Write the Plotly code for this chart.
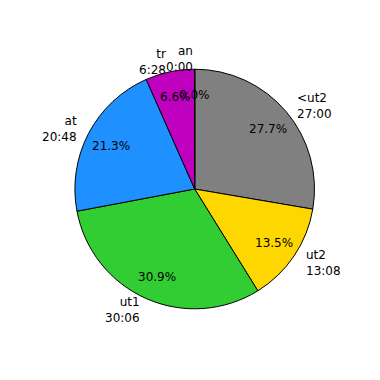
import math
import plotly.graph_objects as go

labels = ["<ut2", "ut2", "ut1", "at", "tr", "an"]
times = ["27:00", "13:08", "30:06", "20:48", "6:28", "0:00"]
minutes = [27 + 0/60, 13 + 8/60, 30 + 6/60, 20 + 48/60, 6 + 28/60, 0.0]
colors = ["#808080", "#FFD700", "#32CD32", "#1E90FF", "#BF00BF", "#FF7F0E"]

W = H = 380
cx, cy, r = 195.0, 190.0, 119.0  # text geometry, pixels from top-left
pcx, pcy, pr = 194.7, 189.0, 119.8  # pie domain geometry
pct_dist, lab_dist = 0.8, 1.1
FONT = dict(family="DejaVu Sans", size=12, color="black")

fig = go.Figure(go.Pie(
    labels=labels, values=minutes, sort=False, direction="clockwise", rotation=0,
    marker=dict(colors=colors, line=dict(color="black", width=1)),
    textinfo="none", hoverinfo="skip", showlegend=False,
    domain=dict(x=[(pcx - pr) / W, (pcx + pr) / W], y=[1 - (pcy + pr) / H, 1 - (pcy - pr) / H]),
))

total = sum(minutes)
cum = 0.0
annotations = []
for lab, t, v in zip(labels, times, minutes):
    frac = v / total
    mid = cum + frac / 2
    cum += frac
    ang = math.radians(90 - 360 * mid)
    c, s = math.cos(ang), math.sin(ang)
    px = cx + pct_dist * r * c
    py = cy - pct_dist * r * s
    annotations.append(dict(x=px / W, y=1 - py / H, xref="paper", yref="paper",
                            text=f"{frac*100:.1f}%", showarrow=False, font=FONT,
                            xanchor="center", yanchor="middle"))
    lx = cx + lab_dist * r * c
    ly = cy - lab_dist * r * s
    side = "left" if c > 1e-9 else "right"
    annotations.append(dict(x=lx / W, y=1 - ly / H, xref="paper", yref="paper",
                            text=f"{lab}<br>{t}", showarrow=False, font=FONT,
                            xanchor=side, yanchor="middle", align=side))

fig.update_layout(width=W, height=H, margin=dict(l=0, r=0, t=0, b=0),
                  paper_bgcolor="white", plot_bgcolor="white",
                  annotations=annotations)
fig.write_html("out.html")
